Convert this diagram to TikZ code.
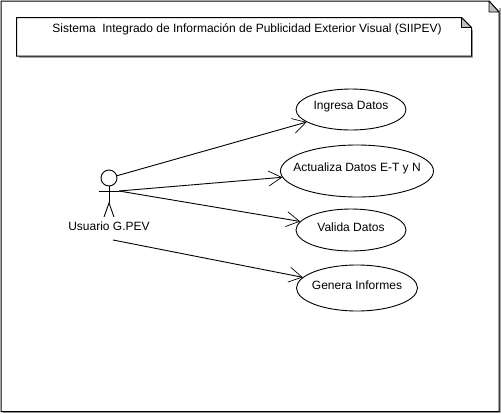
\documentclass[tikz,border=0pt]{standalone}
\usepackage{fontspec}
\setmainfont{Liberation Sans}
\usetikzlibrary{arrows.meta,shapes.geometric}

\tikzset{
  usecase/.style={draw,ellipse,line width=0.9pt,inner sep=0pt},
  casetext/.style={font=\fontsize{12}{14}\selectfont,inner sep=0pt,yshift=#1},
  assoc/.style={-{Straight Barb[length=13pt,width=15pt,line width=0.7pt]},line width=0.9pt},
  notefold/.style={fill=black!25,draw,line width=0.9pt,line join=round},
  noteshadow/.style={color=black!35,line width=1.4pt},
  stick/.style={line width=0.9pt}
}

\begin{document}
\begin{tikzpicture}[x=1pt,y=-1pt]

\useasboundingbox (0,0) rectangle (501,413);

% outer note
\draw[noteshadow] (500,8)--(500,412.5)--(3,412.5);
\draw[line width=1pt] (489,1)--(1,1)--(1,411.5)--(499,411.5)--(499,12)--cycle;
\draw[notefold] (489,1)--(499,12)--(489,12)--cycle;

% title note
\draw[noteshadow] (472.5,30)--(472.5,57)--(19,57);
\draw[line width=1pt,fill=white] (461.5,17.5)--(16.5,17.5)--(16.5,56)--(471.5,56)--(471.5,27.5)--cycle;
\draw[notefold] (461.5,17.5)--(471.5,27.5)--(461.5,27.5)--cycle;
\node[font=\fontsize{12}{14}\selectfont,inner sep=0pt] (title) at (247,29) {Sistema\ \ Integrado de Información de Publicidad Exterior Visual (SIIPEV)};

% actor
\node[draw,circle,stick,minimum size=16pt,inner sep=0pt] (head) at (109,178) {};
\coordinate (hip) at (109,203);
\coordinate (armr) at (119,191);
\draw[stick] (head)--(hip);
\draw[stick] (99,191)--(armr);
\draw[stick] (104,217)--(hip)--(114,217);
\node[font=\fontsize{12}{14}\selectfont,inner sep=0pt] (usuario) at (109,226) {Usuario G.PEV};
\coordinate (below) at (113,240);

% use cases
\node[usecase,minimum width=110pt,minimum height=41pt,label={[casetext=2.5pt]center:Ingresa Datos}] (ingresa) at (351,109.5) {};
\node[usecase,minimum width=153pt,minimum height=52pt,label={[casetext=3pt]center:Actualiza Datos E-T y N}] (actualiza) at (357,171) {};
\node[usecase,minimum width=110pt,minimum height=42pt,label={[casetext=3pt]center:Valida Datos}] (valida) at (351,230) {};
\node[usecase,minimum width=121pt,minimum height=46pt,label={[casetext=3pt]center:Genera Informes}] (genera) at (357,288) {};

% connectors
\draw[assoc] (head)--(ingresa);
\draw[assoc] (armr)--(actualiza);
\draw[assoc] (armr)--(valida);
\draw[assoc] (below)--(genera);

\end{tikzpicture}
\end{document}
